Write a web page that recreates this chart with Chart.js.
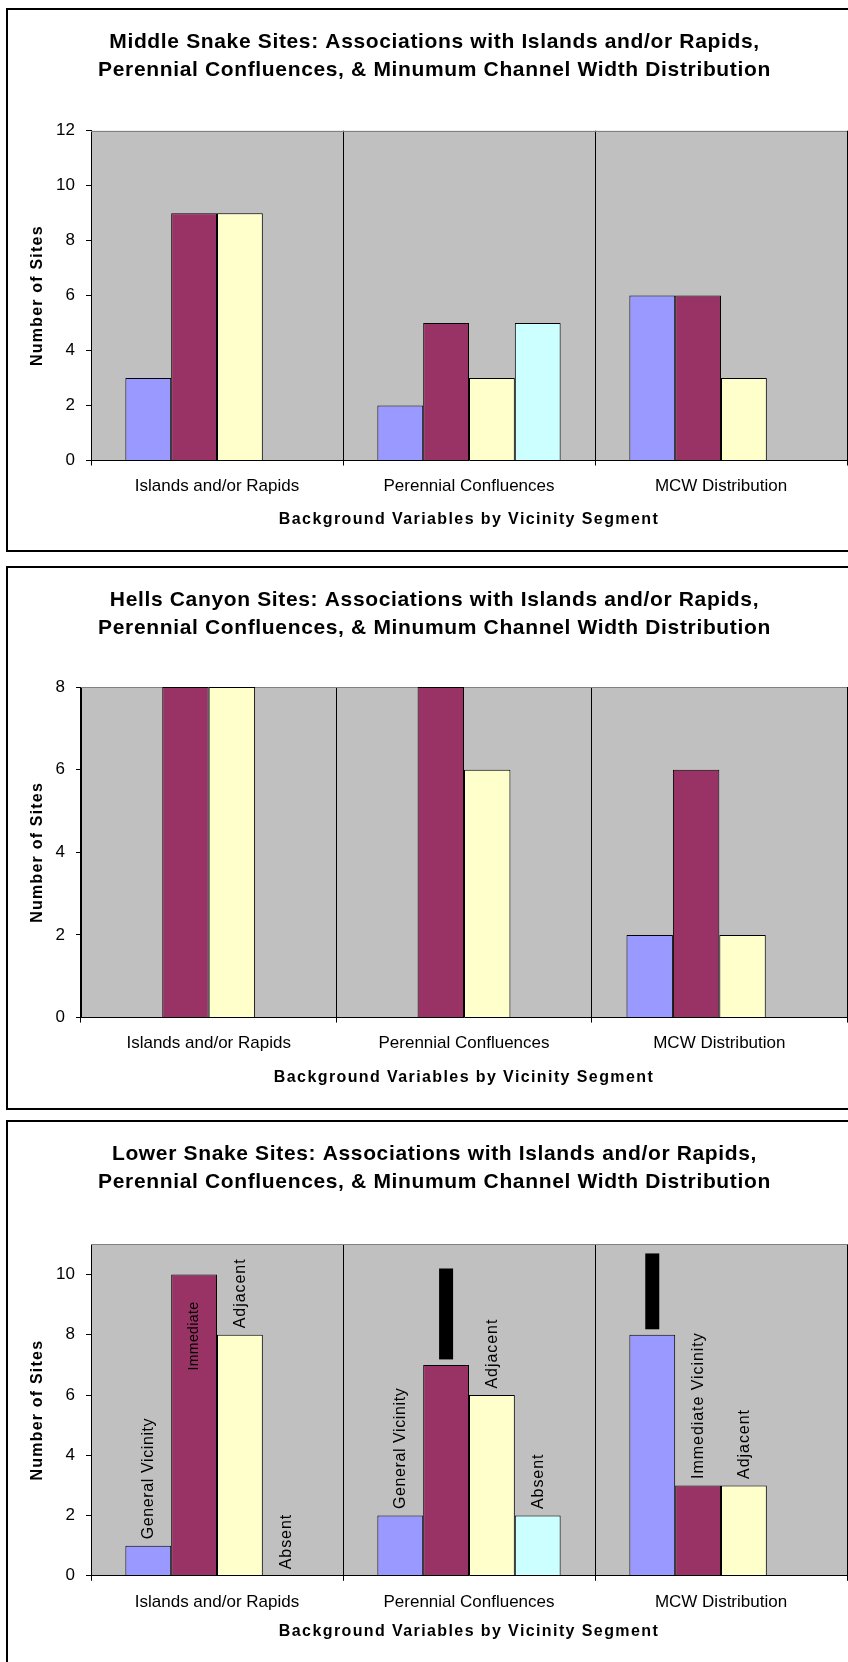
<!DOCTYPE html>
<html>
<head>
<meta charset="utf-8">
<title>Snake River sites: islands, confluences and channel width</title>
<script src="https://cdn.jsdelivr.net/npm/chart.js@4/dist/chart.umd.min.js"></script>
<style>
  html, body { margin: 0; padding: 0; background: #fff; overflow: hidden; width: 848px; height: 1662px; }
  .panel { position: absolute; left: 6px; width: 856px; height: 544px; border: 2px solid #000; box-sizing: border-box; background: #fff; }
  .panel canvas { position: absolute; left: 0; top: 0; }
</style>
</head>
<body>
<div class="panel" style="top:8px"><canvas id="middle" width="852" height="540"></canvas></div>
<div class="panel" style="top:566px"><canvas id="hells" width="852" height="540"></canvas></div>
<div class="panel" style="top:1120px"><canvas id="lower" width="852" height="540"></canvas></div>
<script>
// ---- data ----
const categories = ['Islands and/or Rapids', 'Perennial Confluences', 'MCW Distribution'];
const seriesNames = ['General Vicinity', 'Immediate Vicinity', 'Adjacent', 'Absent'];

const middleGeneral   = [3, 2, 6];
const middleImmediate = [9, 5, 6];
const middleAdjacent  = [9, 3, 3];
const middleAbsent    = [0, 5, 0];
const middleTicks     = [0, 2, 4, 6, 8, 10, 12];

const hellsGeneral    = [0, 0, 2];
const hellsImmediate  = [8, 8, 6];
const hellsAdjacent   = [8, 6, 2];
const hellsAbsent     = [0, 0, 0];
const hellsTicks      = [0, 2, 4, 6, 8];

const lowerGeneral    = [1, 2, 8];
const lowerImmediate  = [10, 7, 3];
const lowerAdjacent   = [8, 6, 3];
const lowerAbsent     = [0, 2, 0];
const lowerTicks      = [0, 2, 4, 6, 8, 10];
const lowerAxisMax    = 11;

// text written beside each bar of the Lower Snake chart (one row per series)
const lowerBarLabels = [
  ['General Vicinity', 'General Vicinity', null],
  ['Immediate', null, 'Immediate Vicinity'],
  ['Adjacent', 'Adjacent', 'Adjacent'],
  ['Absent', 'Absent', null]
];
// labels that came out as solid black boxes; value reached by the top of each box
const lowerBlockedLabelTops = [
  [null, null, 10.7],
  [null, 10.2, null],
  [null, null, null],
  [null, null, null]
];

const titleLines = {
  middle: ['Middle Snake Sites: Associations with Islands and/or Rapids,',
           'Perennial Confluences, & Minumum Channel Width Distribution'],
  hells:  ['Hells Canyon Sites: Associations with Islands and/or Rapids,',
           'Perennial Confluences, & Minumum Channel Width Distribution'],
  lower:  ['Lower Snake Sites: Associations with Islands and/or Rapids,',
           'Perennial Confluences, & Minumum Channel Width Distribution']
};
const xAxisTitle = 'Background Variables by Vicinity Segment';
const yAxisTitle = 'Number of Sites';

// ---- styling ----
const FONT = '"Liberation Sans", Arial, Helvetica, sans-serif';
const seriesColors = ['#9999FF', '#993366', '#FFFFCC', '#CCFFFF'];
const PLOT_BG = '#C0C0C0';
const PLOT_EDGE = '#808080';
const PAD_L = 14, PAD_R = 13;

Chart.defaults.font.family = FONT;
Chart.defaults.color = '#000';

// plot background, grey frame and the titles drawn on the canvas
const framePlugin = {
  id: 'frame',
  beforeDraw(chart) {
    const a = chart.chartArea, ctx = chart.ctx;
    ctx.save();
    ctx.fillStyle = PLOT_BG;
    ctx.fillRect(a.left, a.top, a.right - a.left, a.bottom - a.top);
    ctx.restore();
  },
  beforeDatasetsDraw(chart) {
    const a = chart.chartArea, ctx = chart.ctx;
    ctx.save();
    ctx.strokeStyle = PLOT_EDGE;
    ctx.lineWidth = 1;
    ctx.beginPath();
    ctx.moveTo(a.left, Math.round(a.top) + 0.5);
    ctx.lineTo(a.right, Math.round(a.top) + 0.5);
    ctx.stroke();
    ctx.restore();
  },
  afterDraw(chart, args, opts) {
    const a = chart.chartArea, ctx = chart.ctx;
    ctx.save();
    ctx.fillStyle = '#000';
    ctx.textAlign = 'center';
    ctx.textBaseline = 'middle';
    // chart title
    ctx.font = 'bold 21px ' + FONT;
    ctx.letterSpacing = '0.65px';
    const cx = (PAD_L + chart.width - PAD_R) / 2;
    opts.lines.forEach((line, i) => ctx.fillText(line, cx, 31.8 + i * 28.4));
    // category axis title
    ctx.font = 'bold 16px ' + FONT;
    ctx.letterSpacing = '1.4px';
    ctx.fillText(xAxisTitle, (a.left + a.right) / 2, 510);
    // value axis title
    ctx.letterSpacing = '1.2px';
    ctx.translate(30, (a.top + a.bottom) / 2);
    ctx.rotate(-Math.PI / 2);
    ctx.fillText(yAxisTitle, 0, 0);
    ctx.restore();
  }
};

// rotated text labels above (or inside) bars
const labelTracking = { 'General Vicinity': 0.6 };
const barLabelPlugin = {
  id: 'barLabels',
  afterDatasetsDraw(chart, args, opts) {
    if (!opts.texts) return;
    const ctx = chart.ctx, yScale = chart.scales.y;
    opts.texts.forEach((row, di) => {
      const meta = chart.getDatasetMeta(di);
      row.forEach((text, i) => {
        const bar = meta.data[i];
        const blockTop = opts.blocks[di][i];
        ctx.save();
        if (blockTop != null) {
          const top = yScale.getPixelForValue(blockTop);
          const bottom = bar.y - 5.5;
          ctx.fillStyle = '#000';
          ctx.fillRect(bar.x - 7, top, 14, bottom - top);
        }
        if (text) {
          const inside = opts.inside[0] === di && opts.inside[1] === i;
          ctx.fillStyle = '#000';
          ctx.textBaseline = 'middle';
          if (inside) {
            ctx.font = '14px ' + FONT;
            ctx.letterSpacing = '0.4px';
            ctx.textAlign = 'right';
            ctx.translate(bar.x + 0.5, bar.y + 27);
          } else {
            ctx.font = '16px ' + FONT;
            ctx.letterSpacing = (labelTracking[text] ?? 0.95) + 'px';
            ctx.textAlign = 'left';
            ctx.translate(bar.x + 0.5, bar.y - 6.5);
          }
          ctx.rotate(-Math.PI / 2);
          ctx.fillText(text, 0, 0);
        }
        ctx.restore();
      });
    });
  }
};

function makeChart(id, values, ticks, axisMax, layout, extra) {
  const datasets = values.map((v, k) => ({
    label: seriesNames[k],
    data: v,
    backgroundColor: seriesColors[k],
    borderColor: '#000',
    borderWidth: 1,
    borderSkipped: 'bottom',
    categoryPercentage: 4 / 5.5,
    barPercentage: 1
  }));
  return new Chart(document.getElementById(id), {
    type: 'bar',
    data: { labels: categories, datasets },
    plugins: [framePlugin, barLabelPlugin],
    options: {
      responsive: false,
      animation: false,
      events: [],
      layout: { padding: { top: layout.top, left: PAD_L, right: PAD_R, bottom: 0 } },
      plugins: {
        legend: { display: false },
        tooltip: { enabled: false },
        title: { display: false },
        frame: { lines: titleLines[id] },
        barLabels: extra || {}
      },
      scales: {
        x: {
          grid: {
            offset: true,
            drawOnChartArea: true,
            color: (c) => (c.index === categories.length ? PLOT_EDGE : '#000'),
            tickColor: '#000',
            tickLength: 5,
            lineWidth: 1
          },
          border: { color: '#000', width: 1, z: 1 },
          ticks: { font: { size: 17 }, color: '#000', padding: 11, maxRotation: 0 },
          afterFit: (s) => { s.height = layout.xHeight; }
        },
        y: {
          min: 0,
          max: axisMax,
          afterBuildTicks: (s) => { s.ticks = ticks.map(v => ({ value: v })); },
          grid: { drawOnChartArea: false, tickColor: '#000', tickLength: 5 },
          border: { color: '#000', width: 1 },
          ticks: { font: { size: 17 }, color: '#000', padding: 11 },
          afterFit: (s) => { s.width = layout.yWidth; }
        }
      }
    }
  });
}

makeChart('middle',
  [middleGeneral, middleImmediate, middleAdjacent, middleAbsent],
  middleTicks, middleTicks[middleTicks.length - 1],
  { top: 120.7, xHeight: 89.5, yWidth: 69 });

makeChart('hells',
  [hellsGeneral, hellsImmediate, hellsAdjacent, hellsAbsent],
  hellsTicks, hellsTicks[hellsTicks.length - 1],
  { top: 119, xHeight: 90.4, yWidth: 59 });

makeChart('lower',
  [lowerGeneral, lowerImmediate, lowerAdjacent, lowerAbsent],
  lowerTicks, lowerAxisMax,
  { top: 122.4, xHeight: 86.2, yWidth: 69 },
  { texts: lowerBarLabels, blocks: lowerBlockedLabelTops, inside: [1, 0] });
</script>
</body>
</html>
